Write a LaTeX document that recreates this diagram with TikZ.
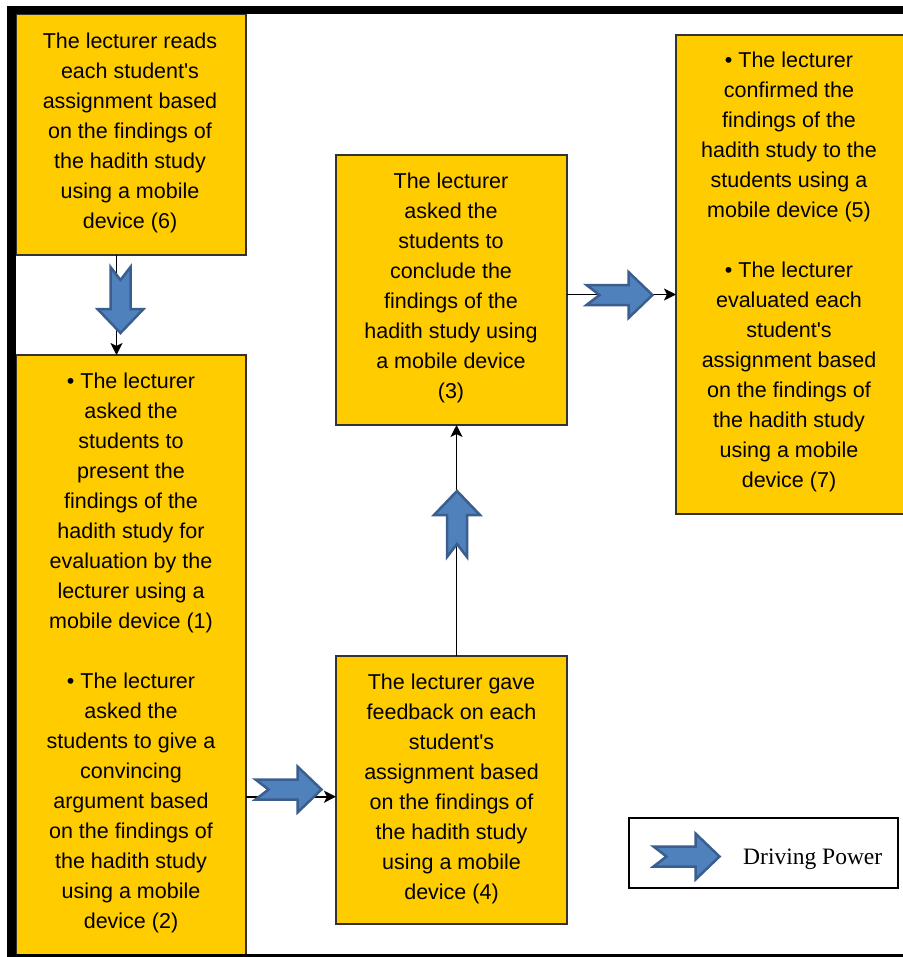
\documentclass[tikz,border=0pt]{standalone}
\usepackage{fontspec}
\setmainfont{Liberation Sans}
\newfontfamily\legendserif{Liberation Serif}
\usetikzlibrary{arrows.meta}
\definecolor{boxyellow}{HTML}{FFCC00}
\definecolor{boxedge}{HTML}{333333}
\definecolor{drivefill}{HTML}{4F81BD}
\definecolor{driveedge}{HTML}{3A5F8E}
\tikzset{
  stagebox/.style={rectangle, fill=boxyellow, draw=boxedge, line width=1.5bp,
    inner sep=0pt, outer sep=0pt},
  stagetext/.style={anchor=north, align=center, inner sep=0pt, outer sep=0pt,
    font=\fontsize{21.5bp}{30bp}\selectfont},
  conn/.style={draw=black, line width=1.8bp,
    -{Stealth[length=12bp, width=12bp, inset=3bp]}},
  drive/.pic={
    \path[fill=drivefill, draw=driveedge, line width=2.5bp, line join=miter]
      (-33,-10) -- (9,-10) -- (9,-23) -- (33,0) -- (9,23) -- (9,10)
      -- (-33,10) -- (-20,0) -- cycle;
  }
}
\newcommand{\up}{\rule{0pt}{20bp}}
\newcommand{\ap}{\textquotesingle}
\begin{document}
\begin{tikzpicture}[x=1bp, y=-1bp]
\useasboundingbox (0,0) rectangle (903,957);
\fill[white] (0,0) rectangle (903,957);

% stage boxes
\node[stagebox, minimum width=230bp, minimum height=241bp] (b6) at (131,134.5) {};
\node[stagebox, minimum width=230bp, minimum height=607bp] (b12) at (131,658.5) {};
\node[stagebox, minimum width=231bp, minimum height=270bp] (b3) at (451.5,290) {};
\node[stagebox, minimum width=231bp, minimum height=268bp] (b4) at (451.5,790) {};
\node[stagebox, minimum width=228bp, minimum height=479bp] (b57) at (790,274.5) {};

% stage texts (first baseline 20bp below the node top)
\node[stagetext] (t6) at (130,28.7) {\up The lecturer reads\\each student\ap s\\assignment based\\on the findings of\\the hadith study\\using a mobile\\device (6)};
\node[stagetext] (t12) at (131,368.7) {\up • The lecturer\\asked the\\students to\\present the\\findings of the\\hadith study for\\evaluation by the\\lecturer using a\\mobile device (1)\\\mbox{}\\• The lecturer\\asked the\\students to give a\\convincing\\argument based\\on the findings of\\the hadith study\\using a mobile\\device (2)};
\node[stagetext] (t3) at (451,168.7) {\up The lecturer\\asked the\\students to\\conclude the\\findings of the\\hadith study using\\a mobile device\\(3)};
\node[stagetext] (t4) at (451.5,669.7) {\up The lecturer gave\\feedback on each\\student\ap s\\assignment based\\on the findings of\\the hadith study\\using a mobile\\device (4)};
\node[stagetext] (t57) at (789,47.7) {\up • The lecturer\\confirmed the\\findings of the\\hadith study to the\\students using a\\mobile device (5)\\\mbox{}\\• The lecturer\\evaluated each\\student\ap s\\assignment based\\on the findings of\\the hadith study\\using a mobile\\device (7)};

% connector guide positions
\coordinate (vA) at (116.5,0);
\coordinate (hB) at (0,796.7);
\coordinate (vC) at (456.5,0);
\coordinate (hD) at (0,294.5);

% connectors
\draw[conn] (b6.south -| vA) -- (b12.north -| vA);
\draw[conn] (b12.east |- hB) -- (b4.west |- hB);
\draw[conn] (b4.north -| vC) -- (b3.south -| vC);
\draw[conn] (b3.east |- hD) -- (b57.west |- hD);

% driving power arrows
\pic[rotate=-90] at (120.5,300) {drive};
\pic at (288.5,789.5) {drive};
\pic[rotate=90] at (457,524) {drive};
\pic at (619.5,295) {drive};

% legend
\node[draw=black, line width=1.2bp, fill=white, minimum width=269bp,
  minimum height=70bp, inner sep=0pt] (legend) at (763.5,853) {};
\pic at (686.5,856.5) {drive};
\node[anchor=base west, inner sep=0pt, font=\legendserif\fontsize{23.5bp}{28bp}\selectfont]
  (legtext) at (743,864) {Driving Power};

% outer frame
\fill[black] (7,6) rectangle (903,14);
\fill[black] (7,6) rectangle (16,957);
\fill[black] (7,954) rectangle (903,957);
\end{tikzpicture}
\end{document}
